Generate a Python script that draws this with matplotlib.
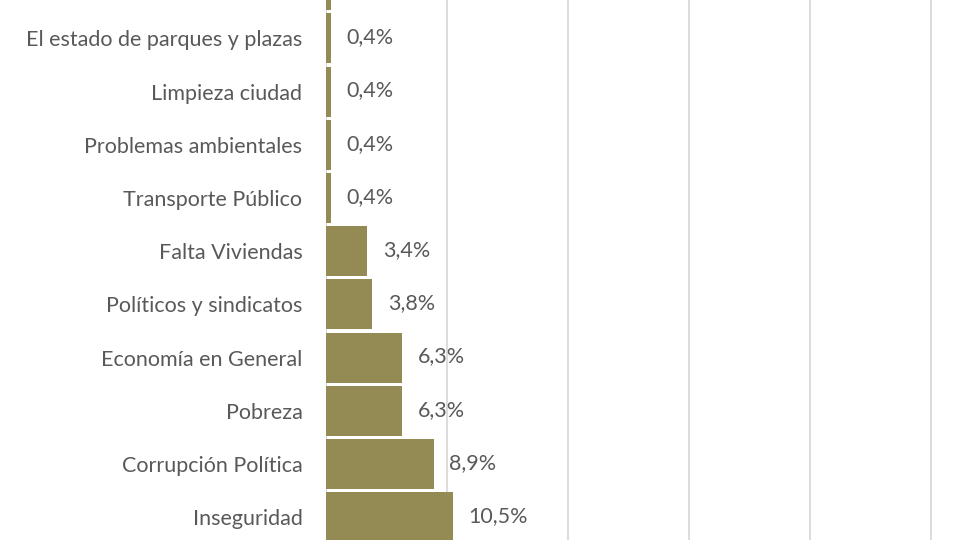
import matplotlib.pyplot as plt

# categorías (de abajo hacia arriba) y porcentajes
categorias = ['Inseguridad', 'Corrupción Política', 'Pobreza', 'Economía en General',
              'Políticos y sindicatos', 'Falta Viviendas', 'Transporte Público',
              'Problemas ambientales', 'Limpieza ciudad', 'El estado de parques y plazas', '']
valores = [10.5, 8.9, 6.3, 6.3, 3.8, 3.4, 0.4, 0.4, 0.4, 0.4, 0.4]
etiquetas = ['10,5%', '8,9%', '6,3%', '6,3%', '3,8%', '3,4%', '0,4%', '0,4%', '0,4%', '0,4%', '0,4%']

plt.rcParams['font.family'] = ['Lato', 'DejaVu Sans']

fig = plt.figure(figsize=(9.6, 5.4), dpi=100)
ax = fig.add_axes([326 / 960, 0, 1 - 326 / 960, 1])

ymin, ymax = -0.43, 9.72
pos = range(len(categorias))
ax.barh(pos, valores, height=0.94, color='#948a54', zorder=3)
for i, (v, t) in enumerate(zip(valores, etiquetas)):
    # la barra de arriba queda cortada, su etiqueta no se ve
    if i > ymax:
        continue
    ax.text(v + 1.3, i + 0.02, t, va='center', ha='left', fontsize=15.5, color='#595959')

ax.set_yticks(list(pos))
ax.set_yticklabels(categorias, fontsize=15.5, color='#595959')
ax.tick_params(axis='y', length=0, pad=17)
ax.set_xticks([0, 10, 20, 30, 40, 50])
ax.tick_params(axis='x', length=0, labelbottom=False)
ax.set_xlim(0, 52.4)
ax.set_ylim(ymin, ymax)
ax.grid(axis='x', color='#d9d9d9', linewidth=1.3, zorder=0)
for s in ax.spines.values():
    s.set_visible(False)
ax.axvline(0, color='#d9d9d9', linewidth=1.3, zorder=1)

plt.savefig('out.png', dpi=100)
